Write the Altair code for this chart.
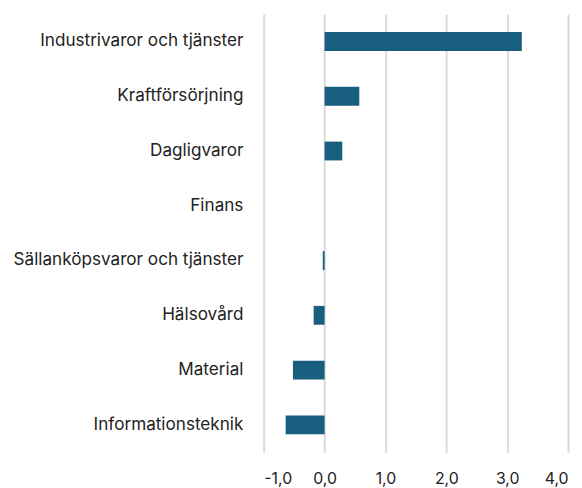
import altair as alt
import pandas as pd

categories = [
    "Industrivaror och tjänster",
    "Kraftförsörjning",
    "Dagligvaror",
    "Finans",
    "Sällanköpsvaror och tjänster",
    "Hälsovård",
    "Material",
    "Informationsteknik",
]
values = [3.24, 0.57, 0.29, 0.0, -0.03, -0.18, -0.52, -0.64]
x_ticks = [-1, 0, 1, 2, 3, 4]

df = pd.DataFrame({"cat": categories, "val": values})

FONT = "Inter"

chart = (
    alt.Chart(df)
    .mark_bar(color="#175E7F", size=19)
    .encode(
        x=alt.X(
            "val:Q",
            scale=alt.Scale(domain=[-1, 4], nice=False, zero=False),
            axis=alt.Axis(
                values=x_ticks,
                labelExpr="replace(replace(format(datum.value, '.1f'), '.', ','), '\u2212', '-')",
                title=None,
                domain=False,
                ticks=False,
                grid=True,
                gridColor="#d9d9d9",
                gridWidth=2,
                labelFont=FONT,
                labelFontSize=16,
                labelColor="#222222",
                labelPadding=19,
            ),
        ),
        y=alt.Y(
            "cat:N",
            sort=categories,
            axis=alt.Axis(
                title=None,
                domain=False,
                ticks=False,
                grid=False,
                labelFont=FONT,
                labelFontSize=17.3,
                labelColor="#222222",
                labelPadding=21,
                labelLimit=300,
            ),
        ),
    )
    .properties(
        width=307,
        height=442,
        autosize=alt.AutoSizeParams(type="none"),
        padding={"left": 258, "top": 4, "right": 6, "bottom": 40},
    )
    .configure_view(stroke=None)
)

chart.save("out.html", embed_options={"renderer": "svg", "actions": False})
